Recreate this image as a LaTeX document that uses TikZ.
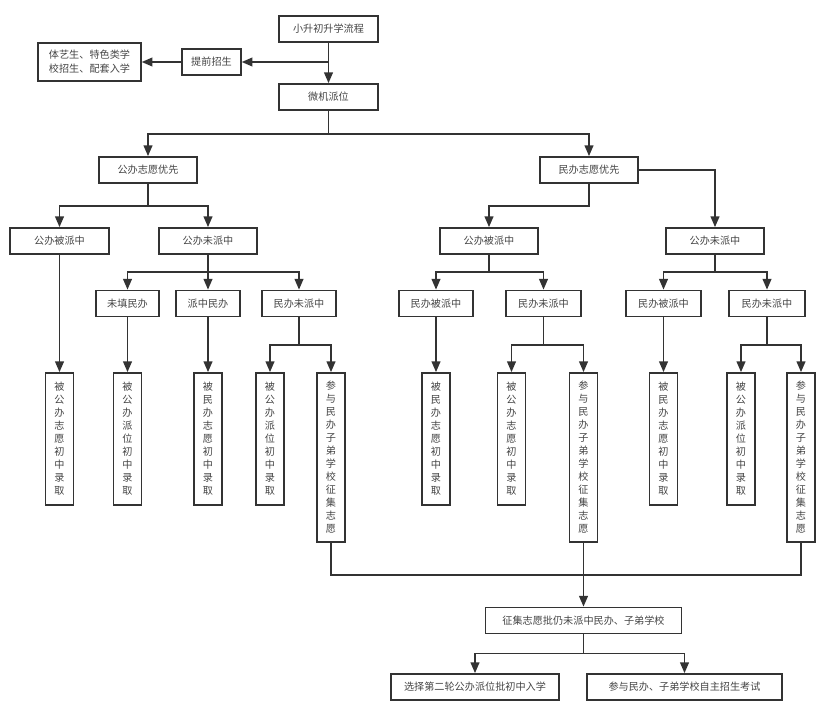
\documentclass[tikz,border=0pt]{standalone}
\usepackage{fontspec}
\usepackage{tikz}
\usetikzlibrary{arrows.meta,calc}
\newfontfamily\cjk{Noto Sans CJK SC}
\definecolor{inkgray}{HTML}{333333}
\definecolor{textgray}{HTML}{444444}

\tikzset{
    box/.style={draw=inkgray, line width=1.3pt, rectangle, inner sep=0pt,
        minimum height=19.5pt, text=textgray, align=center,
        font=\cjk\fontsize{7.6}{10.5}\selectfont},
    vbox/.style={box, minimum width=21pt, font=\cjk\fontsize{7.6}{9.75}\selectfont},
    shortv/.style={vbox, minimum height=99pt},
    tallv/.style={vbox, minimum height=126.75pt},
    flow/.style={draw=inkgray, line width=1.3pt, -{Triangle[length=8pt,width=6.5pt]}},
    plain/.style={draw=inkgray, line width=1.3pt}
}

\begin{document}
\begin{tikzpicture}[x=0.75pt, y=-0.75pt]
    \useasboundingbox (0,0) rectangle (834,711);

    % Top
    \node[box, minimum width=74pt] (start) at (328.5,29) {小升初升学流程};
    \node[box, minimum width=74pt] (pick) at (328.5,97) {微机派位};
    \node[box, minimum width=44pt] (early) at (211.5,62) {提前招生};
    \node[box, minimum width=77pt, minimum height=28.5pt] (special) at (89.5,62) {体艺生、特色类学\\校招生、配套入学};

    \draw[flow] (start.south) -- (pick.north);
    \draw[flow] (start.south |- early.east) -- (early.east);
    \draw[flow] (early.west) -- (special.east);

    % Level 1
    \node[box, minimum width=73.5pt] (pubfirst) at (148,170) {公办志愿优先};
    \node[box, minimum width=73.5pt] (privfirst) at (589,170) {民办志愿优先};
    \coordinate (bus1) at (328.5,134);
    \draw[flow] (pick.south) -- (bus1) -| (pubfirst.north);
    \draw[flow] (bus1) -| (privfirst.north);

    % Level 2
    \node[box, minimum width=74pt] (lpubhit) at (59.5,241) {公办被派中};
    \node[box, minimum width=73.5pt] (lpubmiss) at (208,241) {公办未派中};
    \node[box, minimum width=73.5pt] (rpubhit) at (489,241) {公办被派中};
    \node[box, minimum width=73.5pt] (rpubmiss) at (715,241) {公办未派中};
    \coordinate (bus2) at (148,206);
    \draw[flow] (pubfirst.south) -- (bus2) -| (lpubhit.north);
    \draw[flow] (bus2) -| (lpubmiss.north);
    \draw[flow] (privfirst.south) |- (489,206) -- (rpubhit.north);
    \draw[flow] (privfirst.east) -| (rpubmiss.north);

    % Level 3
    \node[box, minimum width=47pt] (nofill) at (127.5,303.5) {未填民办};
    \node[box, minimum width=48pt] (privhit) at (208,303.5) {派中民办};
    \node[box, minimum width=55.5pt] (lprivmiss) at (299,303.5) {民办未派中};
    \node[box, minimum width=56pt] (mprivhit) at (436,303.5) {民办被派中};
    \node[box, minimum width=56pt] (mprivmiss) at (543.5,303.5) {民办未派中};
    \node[box, minimum width=56pt] (rprivhit) at (663.5,303.5) {民办被派中};
    \node[box, minimum width=57pt] (rprivmiss) at (767,303.5) {民办未派中};
    \coordinate (bus3a) at (208,272);
    \coordinate (bus3b) at (489,272);
    \coordinate (bus3c) at (715,272);
    \draw[flow] (lpubmiss.south) -- (bus3a) -| (nofill.north);
    \draw[flow] (bus3a) -- (privhit.north);
    \draw[flow] (bus3a) -| (lprivmiss.north);
    \draw[flow] (rpubhit.south) -- (bus3b) -| (mprivhit.north);
    \draw[flow] (bus3b) -| (mprivmiss.north);
    \draw[flow] (rpubmiss.south) -- (bus3c) -| (rprivhit.north);
    \draw[flow] (bus3c) -| (rprivmiss.north);

    % Vertical results
    \node[shortv] (v1) at (59.5,439) {被\\公\\办\\志\\愿\\初\\中\\录\\取};
    \node[shortv] (v2) at (127.5,439) {被\\公\\办\\派\\位\\初\\中\\录\\取};
    \node[shortv] (v3) at (208,439) {被\\民\\办\\志\\愿\\初\\中\\录\\取};
    \node[shortv] (v4) at (270,439) {被\\公\\办\\派\\位\\初\\中\\录\\取};
    \node[tallv] (v5) at (331,457.5) {参\\与\\民\\办\\子\\弟\\学\\校\\征\\集\\志\\愿};
    \node[shortv] (v6) at (436,439) {被\\民\\办\\志\\愿\\初\\中\\录\\取};
    \node[shortv] (v7) at (511.5,439) {被\\公\\办\\志\\愿\\初\\中\\录\\取};
    \node[tallv] (v8) at (583.5,457.5) {参\\与\\民\\办\\子\\弟\\学\\校\\征\\集\\志\\愿};
    \node[shortv] (v9) at (663.5,439) {被\\民\\办\\志\\愿\\初\\中\\录\\取};
    \node[shortv] (v10) at (741,439) {被\\公\\办\\派\\位\\初\\中\\录\\取};
    \node[tallv] (v11) at (801,457.5) {参\\与\\民\\办\\子\\弟\\学\\校\\征\\集\\志\\愿};

    \draw[flow] (lpubhit.south) -- (v1.north);
    \draw[flow] (nofill.south) -- (v2.north);
    \draw[flow] (privhit.south) -- (v3.north);
    \coordinate (bus4a) at (299,345);
    \draw[flow] (lprivmiss.south) -- (bus4a) -| (v4.north);
    \draw[flow] (bus4a) -| (v5.north);
    \draw[flow] (mprivhit.south) -- (v6.north);
    \coordinate (bus4b) at (543.5,345);
    \draw[flow] (mprivmiss.south) -- (bus4b) -| (v7.north);
    \draw[flow] (bus4b) -| (v8.north);
    \draw[flow] (rprivhit.south) -- (v9.north);
    \coordinate (bus4c) at (767,345);
    \draw[flow] (rprivmiss.south) -- (bus4c) -| (v10.north);
    \draw[flow] (bus4c) -| (v11.north);

    % Bottom
    \node[box, minimum width=147pt] (collect) at (583.5,620.5) {征集志愿批仍未派中民办、子弟学校};
    \node[box, minimum width=126pt] (second) at (475,687) {选择第二轮公办派位批初中入学};
    \node[box, minimum width=146pt] (exam) at (684.5,687) {参与民办、子弟学校自主招生考试};

    \coordinate (bus5) at (583.5,575);
    \draw[plain] (v5.south) |- (bus5);
    \draw[plain] (v11.south) |- (bus5);
    \draw[flow] (v8.south) -- (collect.north);
    \coordinate (bus6) at (583.5,653.5);
    \draw[flow] (collect.south) -- (bus6) -| (second.north);
    \draw[flow] (bus6) -| (exam.north);
\end{tikzpicture}
\end{document}
